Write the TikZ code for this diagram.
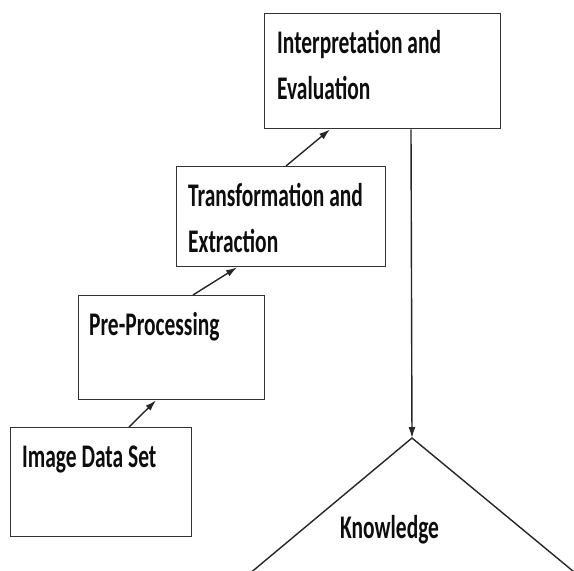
\documentclass[tikz,border=0pt]{standalone}
\usepackage{fontspec}
\newfontfamily\labelfont{Carlito}[FakeStretch=0.65]
\usetikzlibrary{arrows.meta}
\begin{document}
\begin{tikzpicture}[x=1pt,y=-1pt,
  stepbox/.style={draw=black!80, line width=1.4pt, rectangle, inner sep=0pt, anchor=north west},
  lbl/.style={inner sep=0pt, anchor=base west, align=left, text=black!95,
    font=\labelfont\bfseries\fontsize{33}{46}\selectfont},
  flow/.style={draw=black!85, line width=1.4pt, -{Latex[length=11pt,width=7pt]}},
  edge/.style={draw=black!85, line width=1.4pt}]
\useasboundingbox (0,0) rectangle (574,571);
\clip (0,0) rectangle (574,571);

% process boxes
\node[stepbox, minimum width=181pt, minimum height=109pt] (img)    at (10,427) {};
\node[stepbox, minimum width=186pt, minimum height=104pt] (pre)    at (78,295) {};
\node[stepbox, minimum width=209pt, minimum height=100pt] (trans)  at (176,166) {};
\node[stepbox, minimum width=236pt, minimum height=115pt] (interp) at (264,13) {};

% box labels (anchored at the baseline of the last line)
\node[lbl] (imgT)    at (22,467)  {Image Data Set};
\node[lbl] (preT)    at (89,335)  {Pre-Processing};
\node[lbl] (transT)  at (188,252) {Transformation and\\Extraction};
\node[lbl] (interpT) at (277,99)  {Interpretation and\\Evaluation};

% knowledge triangle
\coordinate (apex) at (412,438);
\coordinate (baseL) at (212,605);
\coordinate (baseR) at (614,605);
\draw[edge] (baseL) -- (apex) -- (baseR);
\node[lbl] (know) at (340,538) {Knowledge};

% flow arrows
\draw[flow] ([xshift=119pt]img.north west)   -- ([xshift=78pt]pre.south west);
\draw[flow] ([xshift=115pt]pre.north west)   -- ([xshift=61pt]trans.south west);
\draw[flow] ([xshift=110pt]trans.north west) -- ([xshift=66pt]interp.south west);
\draw[flow] ([xshift=147pt]interp.south west) -- (apex);
\end{tikzpicture}
\end{document}
